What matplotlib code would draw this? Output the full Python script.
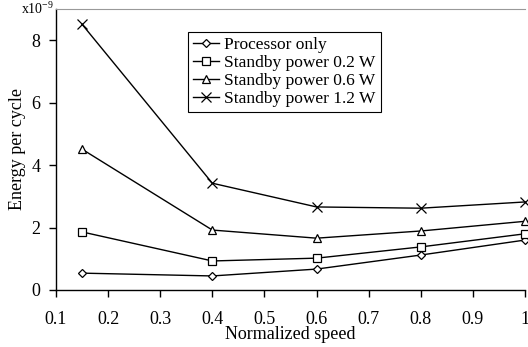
import matplotlib.pyplot as plt

plt.rcParams['font.family'] = ['Liberation Serif', 'DejaVu Serif']

speed = [0.15, 0.4, 0.6, 0.8, 1.0]
proc_only = [0.54, 0.45, 0.67, 1.12, 1.60]
standby_02 = [1.86, 0.93, 1.02, 1.38, 1.80]
standby_06 = [4.51, 1.92, 1.66, 1.89, 2.20]
standby_12 = [8.51, 3.42, 2.66, 2.62, 2.82]

fig = plt.figure(figsize=(5.28, 3.47), dpi=100)
ax = fig.add_axes([56/528, 1-290/347, 469/528, 281/347])

kw = dict(color='black', lw=1.0, mfc='white', mec='black', mew=0.9, clip_on=False)
ax.plot(speed, proc_only, marker='D', ms=4, label='Processor only', **kw)
ax.plot(speed, standby_02, marker='s', ms=5.5, label='Standby power 0.2 W', **kw)
ax.plot(speed, standby_06, marker='^', ms=6, label='Standby power 0.6 W', **kw)
ax.plot(speed, standby_12, marker='x', ms=7, label='Standby power 1.2 W', **kw)

ax.set_xlim(0.1, 1.0)
ax.set_ylim(0, 9)
ax.set_xticks([0.1, 0.2, 0.3, 0.4, 0.5, 0.6, 0.7, 0.8, 0.9, 1.0])
ax.set_xticklabels(['0.1', '0.2', '0.3', '0.4', '0.5', '0.6', '0.7', '0.8', '0.9', '1'])
ax.set_yticks([0, 2, 4, 6, 8])
ax.tick_params(direction='out', length=5, width=1, labelsize=13, pad=6)
ax.tick_params(axis='x', pad=10)

ax.spines['right'].set_visible(False)
ax.spines['top'].set_color('#999999')
ax.spines['left'].set_linewidth(1)
ax.spines['bottom'].set_linewidth(1)

ax.set_xlabel('Normalized speed', fontsize=13, labelpad=-1)
ax.set_ylabel('Energy per cycle', fontsize=13, labelpad=4)
ax.text(-0.005, 1.0, r'x10$^{\mathregular{-9}}$', transform=ax.transAxes,
        ha='right', va='center', fontsize=10)

leg = ax.legend(loc='upper left', bbox_to_anchor=(0.281, 0.918), fontsize=12.5,
                frameon=True, fancybox=False, edgecolor='black', framealpha=1,
                borderpad=0.3, labelspacing=0.1, handlelength=1.5,
                handletextpad=0.3, borderaxespad=0)
leg.get_frame().set_linewidth(0.8)

fig.savefig('out.png', dpi=100)
